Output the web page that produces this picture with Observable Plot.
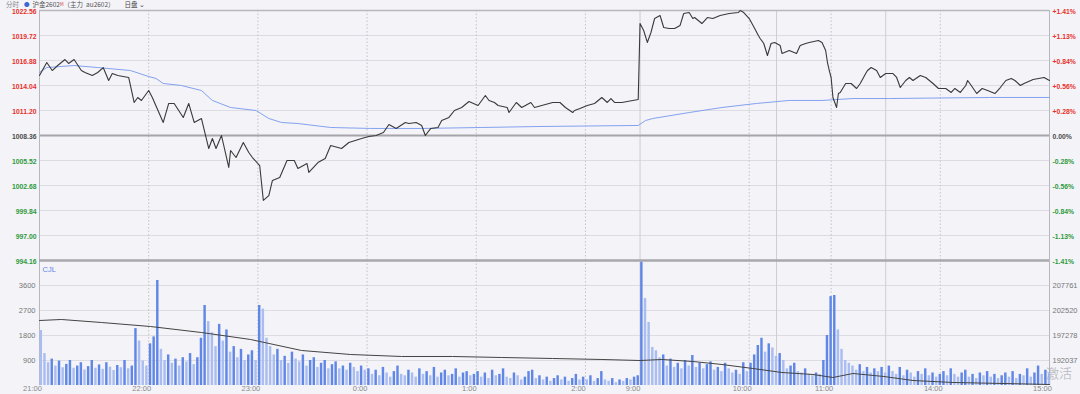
<!DOCTYPE html>
<html><head><meta charset="utf-8">
<script src="https://cdn.jsdelivr.net/npm/d3@7"></script>
<script src="https://cdn.jsdelivr.net/npm/@observablehq/plot@0.6"></script>
<style>
html,body{margin:0;padding:0;}
body{background:#f3f3f8;width:1080px;height:394px;overflow:hidden;position:relative;font-family:"Liberation Sans","DejaVu Sans",sans-serif;}
#price{position:absolute;left:0;top:0;}
#vol{position:absolute;left:0;top:258px;}
#hdr{position:absolute;left:6px;top:0px;font-size:6.5px;line-height:8px;height:8px;color:#555;white-space:nowrap;font-family:"Noto Sans CJK SC","Liberation Sans",sans-serif;}
#hdr .g{color:#888;margin-right:5px;}
#hdr .dot{color:#3b66d6;margin-right:3px;font-size:5.5px;}
#hdr .m{font-size:4.5px;color:#d33;position:relative;top:-1px;}
#hdr .d{margin-left:10px;color:#444;}
#wm{position:absolute;left:1046px;top:365px;font-size:13px;line-height:16px;color:rgba(150,150,155,0.55);font-family:"Noto Sans CJK SC",sans-serif;white-space:nowrap;}
</style></head><body>
<div id="price"></div>
<div id="vol"></div>
<div id="hdr"><span class="g">分时</span><span class="dot">●</span>沪金2602<span class="m">M</span>（主力&nbsp;&nbsp;au2602）<span class="d">日盘 ⌄</span></div>
<div id="wm">激活</div>
<script>
// ---- axis / tick data ----
const timeTicks = [0,60,120,180,240,300,330,390,435,495,555];
const timeLabels = ["21:00","22:00","23:00","0:00","1:00","2:00","9:00","10:00","11:00","14:00","15:00"];
const hourLines = [60,120,180,240,300,390,435,495];
const sessionBreaks = [330,405,465];
const priceTicks = [994.16,997.00,999.84,1002.68,1005.52,1008.36,1011.20,1014.04,1016.88,1019.72,1022.56];
const pctLabels = ["-1.41%","-1.13%","-0.84%","-0.56%","-0.28%","0.00%","+0.28%","+0.56%","+0.84%","+1.13%","+1.41%"];
const prevSettle = 1008.36;
const volTicks = [900,1800,2700,3600];
const oiLabels = ["192037","197278","202520","207761"];

// ---- price series (minute index from 21:00 in trading time) ----
const priceMin = [0,4,7,10,14,16,19,23,25,29,32,35,38,40,43,49,52,54,56,60,62,68,71,74,79,82,85,89,93,95,97,100,104,105,108,112,115,117,121,123,126,128,132,136,140,142,147,148,153,157,160,166,170,177,181,185,189,192,196,201,203,207,210,212,215,219,221,225,228,232,236,241,245,247,250,252,257,258,262,265,270,272,276,282,286,289,293,294,297,301,305,309,312,314,316,320,329,330,332,334,336,338,341,343,346,349,352,354,357,359,360,364,367,370,374,379,384,385,387,390,393,395,396,398,400,402,404,407,408,412,416,418,421,423,428,430,432,433,434,435,436,438,439,440,443,446,449,451,454,455,457,460,462,465,469,471,473,476,478,480,484,487,491,494,498,501,503,506,509,510,512,515,518,521,525,528,531,534,536,539,541,546,552,555];
const priceVal = [1015.18,1016.65,1015.74,1016.31,1016.99,1016.54,1016.99,1015.74,1015.52,1015.18,1015.52,1016.08,1014.61,1015.40,1015.18,1014.95,1012.11,1012.68,1012.34,1013.47,1012.68,1009.84,1012.00,1012.00,1010.41,1012.00,1009.84,1010.29,1006.88,1008.02,1006.88,1008.36,1004.73,1006.66,1005.86,1007.57,1006.43,1005.86,1004.95,1000.98,1001.54,1003.25,1003.59,1005.52,1005.52,1004.61,1005.18,1004.16,1005.29,1005.75,1007.22,1006.88,1007.57,1008.02,1008.25,1008.36,1008.70,1009.61,1009.16,1009.84,1009.72,1009.84,1009.50,1008.36,1009.16,1009.27,1010.06,1010.41,1011.20,1011.54,1012.22,1011.77,1012.90,1012.34,1012.11,1011.77,1011.54,1010.97,1012.11,1011.54,1012.11,1011.54,1011.77,1012.11,1012.11,1011.54,1010.97,1011.20,1011.43,1011.77,1012.00,1012.68,1012.11,1012.56,1012.11,1012.11,1012.45,1021.08,1020.29,1018.93,1020.06,1021.65,1021.99,1020.63,1020.52,1020.52,1020.86,1022.22,1022.33,1021.65,1021.76,1021.08,1021.76,1021.65,1021.99,1022.22,1022.33,1022.56,1022.33,1021.65,1020.52,1019.72,1019.38,1018.81,1017.45,1018.81,1018.93,1018.58,1017.68,1018.02,1017.68,1018.58,1018.81,1018.93,1019.15,1018.93,1018.02,1016.65,1015.74,1014.95,1012.68,1011.54,1013.13,1013.25,1014.27,1014.27,1013.70,1014.27,1015.40,1015.74,1016.08,1015.74,1014.95,1015.40,1015.40,1014.95,1013.81,1014.61,1014.95,1014.61,1015.18,1014.95,1014.27,1013.70,1013.70,1013.25,1013.70,1013.25,1014.04,1014.61,1014.04,1013.13,1013.70,1013.47,1013.13,1013.81,1014.61,1014.84,1014.61,1014.04,1014.27,1014.72,1014.95,1014.61];

// ---- average price series ----
const avgMin = [0,4,19,32,50,60,64,68,78,89,95,105,119,126,133,142,160,182,210,243,274,329,333,337,357,375,394,412,430,447,467,522,555];
const avgVal = [1015.52,1016.08,1016.31,1016.08,1015.74,1015.06,1014.84,1014.27,1014.04,1013.47,1012.34,1011.54,1011.20,1010.29,1009.84,1009.72,1009.27,1009.16,1009.16,1009.27,1009.38,1009.50,1010.06,1010.29,1010.97,1011.54,1012.00,1012.34,1012.34,1012.56,1012.56,1012.68,1012.68];

// ---- volume (per 2-minute slot) ----
const volume = [
1980,1150,820,950,700,880,640,760,900,620,700,820,560,680,900,620,740,580,820,660,540,720,640,900,600,700,2050,1600,880,700,
1500,1750,3780,1300,900,1100,800,950,700,1000,850,1150,750,1000,1700,2880,2300,1900,1400,2200,1600,2000,1200,1400,1000,1300,900,1100,1250,900,
2880,2750,1700,1400,1100,1300,900,1050,800,1200,950,850,1100,700,900,1000,650,800,900,600,750,850,600,700,550,800,650,500,700,550,
600,400,550,350,650,450,300,500,700,400,350,550,450,300,600,400,500,350,650,300,450,550,350,400,600,300,450,500,350,400,
500,300,450,250,550,350,400,600,300,250,450,350,200,300,500,550,250,350,200,300,150,250,350,200,300,150,250,400,200,300,
200,350,150,250,500,200,150,250,100,200,150,250,200,300,350,
4450,3130,2270,1370,1250,1000,1100,700,950,650,800,600,900,700,1080,650,800,600,750,850,550,650,500,800,600,450,550,400,820,500,
800,1100,1440,1700,1200,1500,1350,1050,
1150,900,600,700,800,500,450,600,400,350,450,400,900,1800,3200,3240,2000,1300,900,800,700,550,750,500,650,450,600,500,650,450,
700,500,400,650,350,550,450,300,500,400,600,350,450,300,400,
500,350,600,400,300,450,550,300,400,250,450,350,500,300,400,250,350,450,300,500,250,400,350,600,300,450,700,400,550,450];

// ---- open interest ----
const oiMin = [0,12,34,61,89,116,144,171,199,227,254,282,309,330,342,359,375,392,408,425,436,447,464,480,502,530,555];
const oiVal = [200423,200633,200004,199165,197907,196440,194134,193295,192876,192876,192666,192457,192247,192037,192247,191828,191199,190360,189521,189102,188473,189312,188683,187844,187425,187215,187006];

// ---- build tables ----
const priceData = priceMin.map((m,i)=>({m, p: priceVal[i]}));
const avgData = avgMin.map((m,i)=>({m, p: avgVal[i]}));
const volData = volume.map((v,i)=>({m: i*2, v, c: (i>0 && v>volume[i-1]) ? "#6187e6" : "#aabdf1"}));
const oiScale = d3.scaleLinear().domain([+oiLabels[0], +oiLabels[oiLabels.length-1]]).range([volTicks[0], volTicks[volTicks.length-1]]);
const oiData = oiMin.map((m,i)=>({m, v: oiScale(oiVal[i])}));
const tickColor = d => d > prevSettle + 0.001 ? "#e8302a" : d < prevSettle - 0.001 ? "#2e9a3c" : "#4a4a4a";

const W = 1080, X0 = 39, X1 = 1049;
const gridC = "#dcdce2", dotC = "#c2c2c8", sessC = "#cdcdd2", frameC = "#b7b7bc";

const pricePlot = Plot.plot({
  width: W, height: 262,
  marginLeft: X0, marginRight: W - X1, marginTop: 10, marginBottom: 2,
  style: {background: "transparent", overflow: "visible", fontFamily: "Liberation Sans, sans-serif"},
  x: {domain: [0, 555], axis: null},
  y: {domain: [priceTicks[0], priceTicks[priceTicks.length-1]], axis: null},
  color: {type: "identity"},
  marks: [
    Plot.ruleY(priceTicks, {stroke: gridC}),
    Plot.ruleX(hourLines, {stroke: dotC, strokeDasharray: "1.5,2"}),
    Plot.ruleX(sessionBreaks, {stroke: sessC}),
    Plot.ruleY([prevSettle], {stroke: "#a4a4a9", strokeWidth: 2}),
    Plot.ruleY([priceTicks[priceTicks.length-1]], {stroke: frameC, strokeWidth: 1.5}),
    Plot.ruleX([0, 555], {stroke: frameC}),
    Plot.line(avgData, {x: "m", y: "p", stroke: "#84a2f0", strokeWidth: 1}),
    Plot.line(priceData, {x: "m", y: "p", stroke: "#3a3a3a", strokeWidth: 1.1}),
    Plot.text(priceTicks, {y: d => d, frameAnchor: "left", textAnchor: "end", dx: -3, dy: 1, text: d => d.toFixed(2), fill: tickColor, fontSize: 6.8, fontWeight: "bold"}),
    Plot.text(priceTicks, {y: d => d, frameAnchor: "right", textAnchor: "start", dx: 3, dy: 1, text: (d, i) => pctLabels[i], fill: tickColor, fontSize: 6.8, fontWeight: "bold"})
  ]
});
document.getElementById("price").appendChild(pricePlot);

const volPlot = Plot.plot({
  width: W, height: 136,
  marginLeft: X0, marginRight: W - X1, marginTop: 2, marginBottom: 9,
  style: {background: "transparent", overflow: "visible", fontFamily: "Liberation Sans, sans-serif"},
  x: {domain: [0, 555], axis: null},
  y: {domain: [0, 4500], axis: null},
  color: {type: "identity"},
  marks: [
    Plot.ruleY(volTicks, {stroke: gridC}),
    Plot.ruleX(hourLines, {stroke: dotC, strokeDasharray: "1.5,2"}),
    Plot.ruleX(sessionBreaks, {stroke: sessC}),
    Plot.ruleX([0, 555], {stroke: frameC}),
    Plot.rect(volData, {x1: "m", x2: d => d.m + 2, y1: d => 0, y2: "v", fill: "c", insetLeft: 0.6, insetRight: 0.6}),
    Plot.line(oiData, {x: "m", y: "v", stroke: "#444", strokeWidth: 1}),
    Plot.ruleY([4500], {stroke: "#a8a8ad", strokeWidth: 2.5}),
    Plot.text(volTicks, {y: d => d, frameAnchor: "left", textAnchor: "end", dx: -4, text: d => String(d), fill: "#777", fontSize: 7.5}),
    Plot.text(volTicks, {y: d => d, frameAnchor: "right", textAnchor: "start", dx: 3, text: (d, i) => oiLabels[i], fill: "#777", fontSize: 7.5}),
    Plot.text(timeTicks, {x: d => d, frameAnchor: "bottom", dy: 5, dx: -7, text: (d, i) => timeLabels[i], fill: "#888", fontSize: 7.5}),
    Plot.text(["CJL"], {frameAnchor: "top-left", textAnchor: "start", dx: 3, dy: 6, text: d => d, fill: "#5f84e6", fontSize: 7.5})
  ]
});
document.getElementById("vol").appendChild(volPlot);
</script>
</body></html>
